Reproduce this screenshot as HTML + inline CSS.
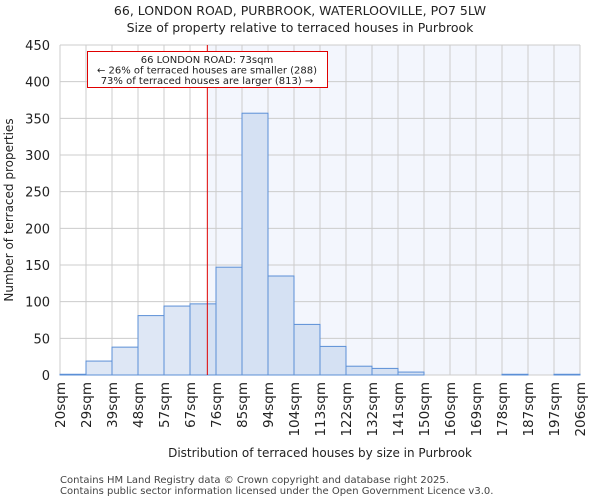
<!DOCTYPE html>
<html><head><meta charset="utf-8"><style>
body{margin:0;background:#fff;font-family:"DejaVu Sans","Liberation Sans",sans-serif}
</style></head><body>
<svg id="chart" width="600" height="500" xmlns="http://www.w3.org/2000/svg" font-family="DejaVu Sans, Liberation Sans, sans-serif">
<text x="300" y="15" text-anchor="middle" font-size="12.5" fill="#222">66, LONDON ROAD, PURBROOK, WATERLOOVILLE, PO7 5LW</text>
<text x="300" y="32" text-anchor="middle" font-size="12.5" fill="#222">Size of property relative to terraced houses in Purbrook</text>
<g id="plot"></g>
<text x="320" y="457" text-anchor="middle" font-size="12" fill="#222">Distribution of terraced houses by size in Purbrook</text>
<text transform="translate(13,210) rotate(-90)" text-anchor="middle" font-size="12" fill="#222">Number of terraced properties</text>
<text x="60" y="483" font-size="10" fill="#444">Contains HM Land Registry data © Crown copyright and database right 2025.</text>
<text x="60" y="494" font-size="10" fill="#444">Contains public sector information licensed under the Open Government Licence v3.0.</text>
</svg>
<script>
const binLabels=["20sqm","29sqm","39sqm","48sqm","57sqm","67sqm","76sqm","85sqm","94sqm","104sqm","113sqm","122sqm","132sqm","141sqm","150sqm","160sqm","169sqm","178sqm","187sqm","197sqm","206sqm"];
const counts=[1,19,38,81,94,97,147,357,135,69,39,12,9,4,0,0,0,1,0,1];
const yTicks=[0,50,100,150,200,250,300,350,400,450];
const propertySize=73;
const propertyBinStart=67, propertyBinEnd=76, propertyBinIndex=5;

const NS="http://www.w3.org/2000/svg";
const g=document.getElementById('plot');
const L=60,R=580,T=45,B=375,yMax=450;
const bw=(R-L)/counts.length;
const xs=i=>L+i*bw;
const ys=v=>B-(v/yMax)*(B-T);
const px=propertyBinIndex+(propertySize-propertyBinStart)/(propertyBinEnd-propertyBinStart);
const redX=xs(px);
function mk(t,a){const e=document.createElementNS(NS,t);for(const k in a)e.setAttribute(k,a[k]);g.appendChild(e);return e;}
let bg=mk('rect',{x:redX,y:T,width:R-redX,height:B-T,fill:'#f3f6fd'});


for(let i=0;i<=counts.length;i++){let l=mk('line',{x1:xs(i),x2:xs(i),y1:T,y2:B,stroke:'#cccccc','stroke-width':1});

}
yTicks.forEach(v=>{let l=mk('line',{x1:L,x2:R,y1:ys(v),y2:ys(v),stroke:'#cccccc','stroke-width':1});


let t=mk('text',{x:L-10,y:ys(v)+5,'text-anchor':'end','font-size':'13',fill:'#222'});t.textContent=v;

});
counts.forEach((c,i)=>{let r=mk('rect',{x:xs(i),y:ys(c),width:bw,height:B-ys(c),fill:(i+1<=px?'#dee7f5':'#d5e1f3'),stroke:'#5b8fd6','stroke-width':1});

});
binLabels.forEach((s,i)=>{const x=xs(i);let t=mk('text',{transform:`translate(${x+5},382) rotate(-90)`,'text-anchor':'end','font-size':'13.5',fill:'#222'});t.textContent=s;

});
let rl=mk('line',{x1:redX,x2:redX,y1:T,y2:B,stroke:'#e00000','stroke-width':1});


let box=mk('rect',{x:87.5,y:51.5,width:240,height:36,fill:'#fff',stroke:'#e00000','stroke-width':1});


["66 LONDON ROAD: 73sqm","← 26% of terraced houses are smaller (288)","73% of terraced houses are larger (813) →"].forEach((s,i)=>{let t=mk('text',{x:207,y:63+i*10.5,'text-anchor':'middle','font-size':'10',fill:'#222'});t.textContent=s;

});
</script>
</body></html>
